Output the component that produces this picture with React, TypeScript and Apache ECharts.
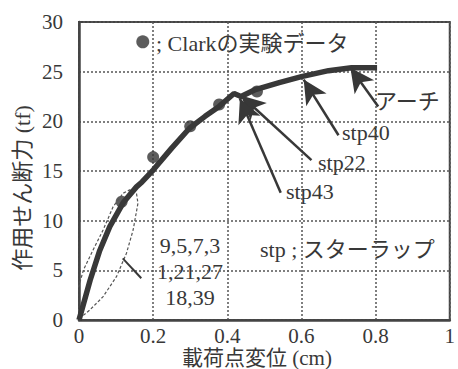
import React, { useEffect, useRef } from 'react';
import * as echarts from 'echarts';

const xTickMax = 1;
const yTickMax = 30;

// main load–displacement curve (x: cm, y: tf)
const curve: number[][] = [
  [0, 0], [0.03, 4.0], [0.056, 7.0], [0.083, 9.4], [0.119, 11.8], [0.155, 13.4],
  [0.17, 13.9], [0.2, 15.1], [0.25, 17.3], [0.298, 19.3], [0.34, 20.5], [0.378, 21.5],
  [0.418, 22.8], [0.437, 22.5], [0.476, 23.2], [0.54, 23.9], [0.6, 24.5],
  [0.673, 25.1], [0.735, 25.4], [0.804, 25.4],
];

// Clark experimental data
const clarkPoints: number[][] = [
  [0.115, 11.9], [0.2, 16.4], [0.3, 19.5], [0.378, 21.7], [0.48, 23.0],
];

const legendDot: number[][] = [[0.172, 28.0]];

// dashed loop around the overlapping early curves
const loop: number[][] = [
  [0.003, 0.33], [-0.006, 1.68], [-0.006, 2.69], [0.012, 5.04], [0.038, 7.05],
  [0.065, 9.06], [0.092, 11.4], [0.119, 12.76], [0.137, 13.1], [0.155, 12.76],
  [0.159, 11.75], [0.146, 9.06], [0.128, 6.72], [0.101, 4.36], [0.065, 2.35],
  [0.029, 1.0], [0.007, 0.33], [0.003, 0.33],
];

const leader: number[][] = [[0.118, 6.2], [0.168, 4.2]];

// arrows: [tail, tip]
const arrowTails: number[][] = [[0.807, 21.5], [0.7, 18.6], [0.627, 16.1], [0.544, 12.8]];
const arrowTips: number[][] = [[0.732, 25.4], [0.606, 24.2], [0.437, 22.6], [0.434, 22.3]];

const SERIF = "Liberation Serif, Noto Sans CJK JP, serif";
const INK = '#383838';

export default function App() {
  const ref = useRef<HTMLDivElement>(null);

  useEffect(() => {
    if (!ref.current) return;
    const chart = echarts.init(ref.current, undefined, { renderer: 'svg' });

    const txt = (text: string, x: number, y: number, size = 22, align = 'left', rotation = 0) => ({
      type: 'text',
      x,
      y,
      rotation,
      silent: true,
      style: { text, font: `${size}px ${SERIF}`, fill: INK, align, verticalAlign: 'middle' },
    });

    chart.setOption({
      animation: false,
      backgroundColor: '#ffffff',
      textStyle: { fontFamily: SERIF },
      grid: {
        left: 79, top: 22, right: 6, bottom: 49,
        show: true, borderColor: '#444', borderWidth: 2,
      },
      xAxis: {
        type: 'value', min: 0, max: xTickMax, interval: 0.2,
        axisLine: { show: true, lineStyle: { color: '#444', width: 2.5 } },
        axisTick: { show: false },
        axisLabel: {
          margin: 5, color: INK, fontFamily: 'Liberation Serif', fontSize: 21,
          formatter: (v: number) => String(Math.round(v * 10) / 10),
        },
        splitLine: { show: true, lineStyle: { type: [2, 2], color: '#555', width: 1.5 } },
      },
      yAxis: {
        type: 'value', min: 0, max: yTickMax, interval: 5,
        axisLine: { show: true, lineStyle: { color: '#444', width: 2.5 } },
        axisTick: { show: false },
        axisLabel: { margin: 16, color: INK, fontFamily: 'Liberation Serif', fontSize: 21 },
        splitLine: { show: true, lineStyle: { type: [2, 2], color: '#555', width: 1.5 } },
      },
      series: [
        {
          type: 'line', data: loop, showSymbol: false, clip: false, silent: true,
          lineStyle: { color: '#555', width: 1.2, type: [3, 2] },
        },
        {
          type: 'line', data: leader, showSymbol: false, silent: true,
          lineStyle: { color: INK, width: 2 },
        },
        {
          type: 'line', data: curve, showSymbol: false, silent: true,
          lineStyle: { color: INK, width: 5.5 },
          markLine: {
            silent: true,
            symbol: ['none', 'arrow'],
            symbolSize: [18, 24],
            label: { show: false },
            lineStyle: { color: INK, width: 2.5, type: 'solid' },
            data: arrowTails.map((t, i) => [{ coord: t }, { coord: arrowTips[i] }]),
          },
        },
        {
          type: 'scatter', data: clarkPoints, symbolSize: 12, silent: true,
          itemStyle: { color: '#333' },
        },
        {
          type: 'scatter', data: legendDot, symbolSize: 13, silent: true, clip: false,
          itemStyle: { color: '#333' },
        },
      ],
      graphic: [
        txt('; Clarkの実験データ', 156, 43),
        txt('アーチ', 375, 101),
        txt('stp40', 342, 132),
        txt('stp22', 318, 162),
        txt('stp43', 286, 191),
        txt('9,5,7,3', 190, 245, 22, 'center'),
        txt('1,21,27', 190, 271, 22, 'center'),
        txt('18,39', 190, 297, 22, 'center'),
        txt('stp ; スターラップ', 260, 249),
        txt('載荷点変位 (cm)', 257, 358, 21, 'center'),
        txt('作用せん断力 (tf)', 22, 188, 22, 'center', Math.PI / 2),
      ],
    });

    return () => chart.dispose();
  }, []);

  return (
    <div
      ref={ref}
      style={{ position: 'fixed', left: 0, top: 0, width: 458, height: 369, background: '#fff' }}
    />
  );
}
